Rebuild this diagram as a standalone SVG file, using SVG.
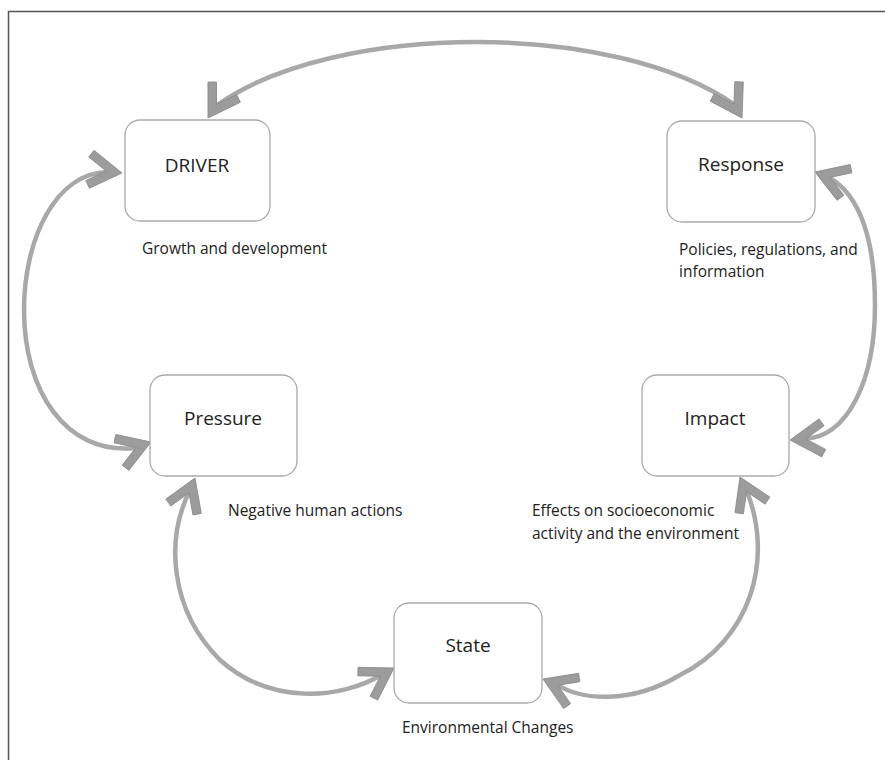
<svg xmlns="http://www.w3.org/2000/svg" width="885" height="760" viewBox="0 0 885 760">
  <defs>
    <style>
      .frame { fill: none; stroke: #555; stroke-width: 1.5; }
      .box { fill: #fff; stroke: #aaa; stroke-width: 1.3; }
      .title { font-family: "Open Sans", "DejaVu Sans", sans-serif; font-size: 19px; fill: #222; text-anchor: middle; }
      .label { font-family: "Open Sans", "DejaVu Sans", sans-serif; font-size: 15.5px; fill: #222; }
      .arc { fill: none; stroke: #a8a8a8; stroke-width: 4.5; stroke-linecap: round; }
      .head { fill: #9c9c9c; stroke: #8a8a8a; stroke-width: 0.8; stroke-linejoin: miter; }
    </style>
    <!-- chevron arrowhead: tip at origin, pointing along +x -->
    <path id="chev" d="M0,0 L-30.5,-19.1 L-35,-11.9 L-16,0 L-35,11.9 L-30.5,19.1 Z"/>
  </defs>

  <rect width="885" height="760" fill="#fff"/>
  <path class="frame" d="M8.5,760 L8.5,11.5 L885,11.5"/>

  <g id="connectors">
    <!-- DRIVER <-> Response -->
    <path class="arc" d="M217,105 C337,21 615,21 735,105"/>
    <use href="#chev" class="head" transform="translate(208,118) rotate(122)"/>
    <use href="#chev" class="head" transform="translate(742,118) rotate(60)"/>
    <!-- DRIVER <-> Pressure -->
    <path class="arc" d="M109,172 C55,172 24,240 24,310 C24,390 65,455 135,448"/>
    <use href="#chev" class="head" transform="translate(122,173) rotate(7)"/>
    <use href="#chev" class="head" transform="translate(151,442) rotate(-20)"/>
    <!-- Response <-> Impact -->
    <path class="arc" d="M828,177 C862,195 875,245 875,305 C875,380 848,438 803,439"/>
    <use href="#chev" class="head" transform="translate(815,172) rotate(200)"/>
    <use href="#chev" class="head" transform="translate(790,440) rotate(176)"/>
    <!-- Pressure <-> State -->
    <path class="arc" d="M190,490 C165,540 170,610 220,660 C270,705 340,700 383,674"/>
    <use href="#chev" class="head" transform="translate(195,478) rotate(-68)"/>
    <use href="#chev" class="head" transform="translate(394,668) rotate(-31)"/>
    <!-- Impact <-> State -->
    <path class="arc" d="M746,489 C775,560 750,640 680,675 C630,705 580,700 556,684"/>
    <use href="#chev" class="head" transform="translate(740,477) rotate(-114)"/>
    <use href="#chev" class="head" transform="translate(543,679) rotate(203)"/>
  </g>

  <g id="driver">
    <rect class="box" x="125" y="120" width="145" height="101" rx="15"/>
    <text class="title" x="197" y="172">DRIVER</text>
    <text class="label" x="142" y="254">Growth and development</text>
  </g>

  <g id="response">
    <rect class="box" x="667" y="121" width="148" height="101" rx="15"/>
    <text class="title" x="741" y="171">Response</text>
    <text class="label" x="679" y="255">Policies, regulations, and</text>
    <text class="label" x="679" y="277">information</text>
  </g>

  <g id="pressure">
    <rect class="box" x="150" y="375" width="147" height="101" rx="15"/>
    <text class="title" x="223" y="425">Pressure</text>
    <text class="label" x="228" y="516">Negative human actions</text>
  </g>

  <g id="impact">
    <rect class="box" x="642" y="375" width="147" height="101" rx="15"/>
    <text class="title" x="715" y="425">Impact</text>
    <text class="label" x="532" y="516">Effects on socioeconomic</text>
    <text class="label" x="532" y="539">activity and the environment</text>
  </g>

  <g id="state">
    <rect class="box" x="394" y="603" width="148" height="100" rx="15"/>
    <text class="title" x="468" y="652">State</text>
    <text class="label" x="402" y="733">Environmental Changes</text>
  </g>
</svg>
